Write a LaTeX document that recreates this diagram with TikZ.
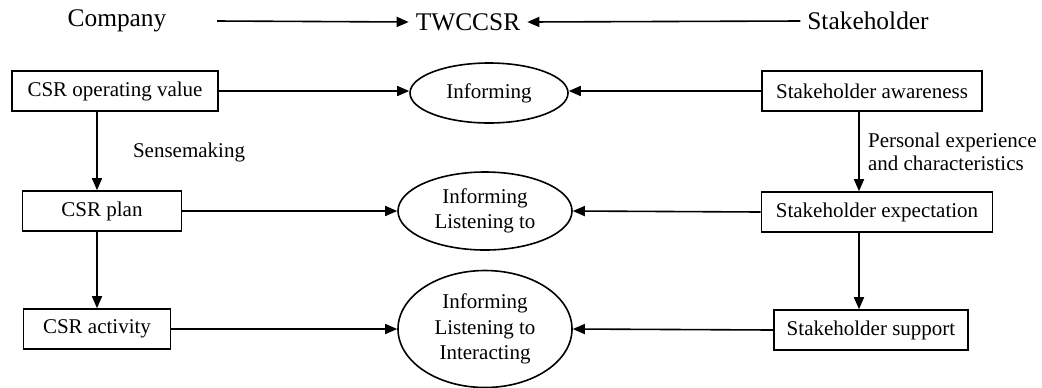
\documentclass[tikz,border=0pt]{standalone}
\usepackage{fontspec}
\setmainfont{Liberation Serif}
\usetikzlibrary{arrows.meta,shapes.geometric}

\tikzset{
  box/.style={draw, line width=0.8pt, minimum height=20pt, inner sep=0pt,
    font=\fontsize{10.5}{12.6}\selectfont},
  oval/.style={draw, ellipse, line width=0.8pt, inner sep=0pt, align=center,
    font=\fontsize{10.5}{12.6}\selectfont},
  head/.style={font=\fontsize{12.7}{15}\selectfont},
  lbl/.style={anchor=west, align=left, font=\fontsize{10.5}{11.6}\selectfont},
  arr/.style={-{Triangle[length=6pt,width=5pt]}, line width=0.8pt}
}

\begin{document}
\begin{tikzpicture}[x=0.5pt,y=-0.5pt]
    \useasboundingbox (0,0) rectangle (1042,387);
    % top line
    \node[head] (comp) at (117,21) {Company};
    \node[head] (tw) at (468,22) {TWCCSR};
    \node[head] (stk) at (868,21) {Stakeholder};
    \draw[arr] (comp.east -| 217,0) -- (tw.west);
    \draw[arr] (stk.west) -- (tw.east);

    % company side
    \node[box, minimum width=103pt] (cov) at (115,91) {CSR operating value};
    \node[box, minimum width=79.5pt] (cplan) at (102,211) {CSR plan};
    \node[box, minimum width=73.5pt] (cact) at (97,329) {CSR activity};

    % stakeholder side
    \node[box, minimum width=110pt] (sa) at (872,91) {Stakeholder awareness};
    \node[box, minimum width=115.5pt] (se) at (877,212) {Stakeholder expectation};
    \node[box, minimum width=97pt] (ss) at (871,330) {Stakeholder support};

    % TWCCSR ovals
    \node[oval, minimum width=79pt, minimum height=30pt] (inf) at (489,93) {Informing};
    \node[oval, minimum width=87pt, minimum height=39pt] (lis) at (485,211) {Informing\\Listening to};
    \node[oval, minimum width=87pt, minimum height=58.5pt] (act) at (485,329) {Informing\\Listening to\\Interacting};

    \draw[arr] (cov) -- (cov -| inf.west);
    \draw[arr] (cplan) -- (cplan -| lis.west);
    \draw[arr] (cact) -- (cact -| act.west);
    \draw[arr] (sa) -- (sa -| inf.east);
    \draw[arr] (se.west) -- (lis.east);
    \draw[arr] (ss.west) -- (act.east);

    % downward steps
    \draw[arr] (cact.north |- cov.south) -- (cact.north |- cplan.north);
    \draw[arr] (cact.north |- cplan.south) -- (cact.north);
    \coordinate (rx) at (859,0);
    \draw[arr] (rx |- sa.south) -- (rx |- se.north);
    \draw[arr] (rx |- se.south) -- (rx |- ss.north);

    \node[lbl] (sense) at (126,152) {Sensemaking};
    \node[lbl] (pers) at (861,152) {Personal experience\\and characteristics};
\end{tikzpicture}
\end{document}
